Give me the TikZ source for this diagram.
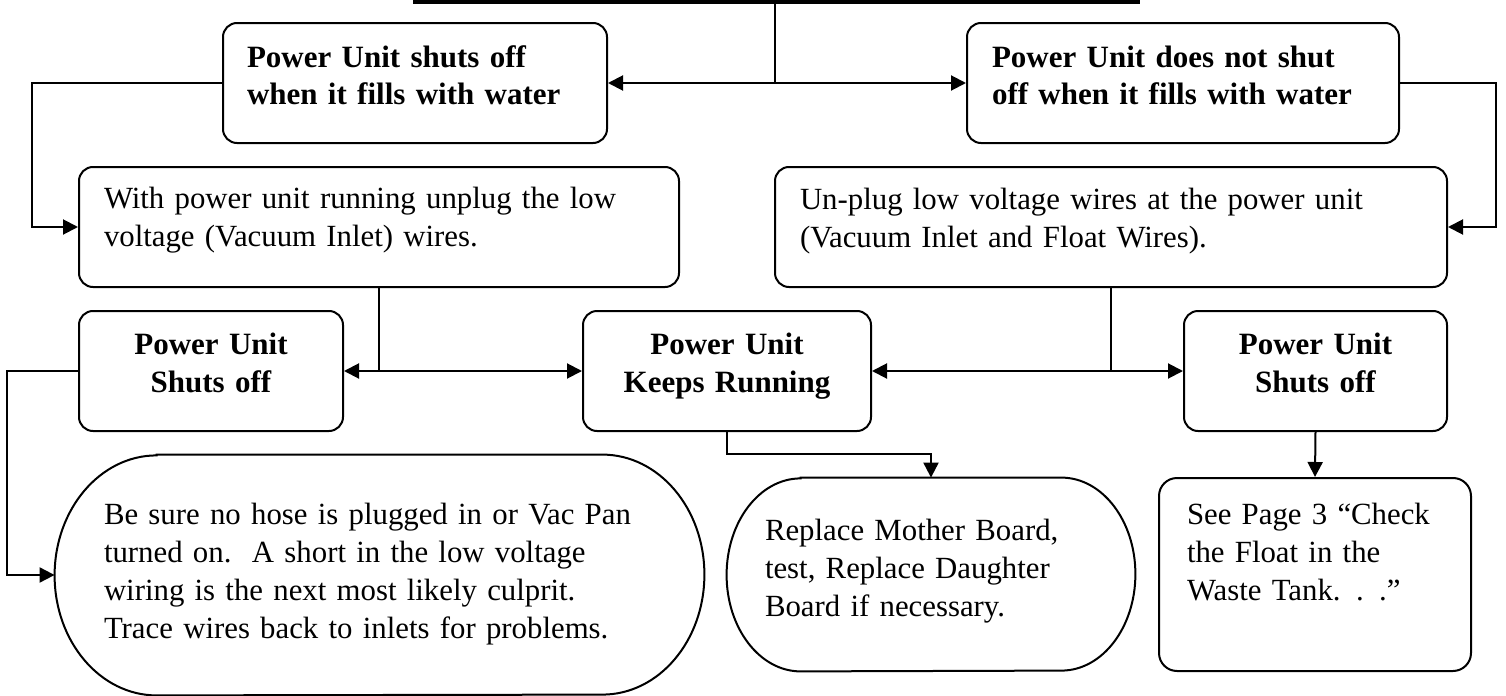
\documentclass[tikz,border=0pt]{standalone}
\usepackage{fontspec}
\setmainfont{Liberation Serif}
\usetikzlibrary{arrows.meta,calc}
\begin{document}
\begin{tikzpicture}[x=0.5pt,y=0.5pt,
  txt/.style={inner ysep=0pt, font=\fontsize{15.4}{19}\selectfont},
  boldtxt/.style={inner ysep=0pt, font=\fontsize{15.5}{19}\selectfont\bfseries},
  rbox/.style={draw, line width=1pt, rounded corners=7pt},
  link/.style={line width=1pt},
  arr/.style={line width=1pt, -{Triangle[length=7.5pt,width=7.5pt]}},
  outline/.style={line width=1pt}
]
\useasboundingbox (0,0) rectangle (1506,-696);

% top level boxes
\node[rbox, boldtxt, align=left, text width=168pt, inner xsep=12pt, text height=22pt, text depth=38pt] (b1) at (415,-83)
  {Power Unit shuts off\\when it fills with water};
\node[rbox, boldtxt, align=left, text width=191pt, inner xsep=12.5pt, text height=22pt, text depth=38pt] (b2) at (1183,-83)
  {Power Unit does not shut\\off when it fills with water};

% second level
\node[rbox, txt, align=left, text width=275pt, inner xsep=12.5pt, text height=20.5pt, text depth=39.5pt] (b3) at (379,-227)
  {With power unit running unplug the low\\voltage (Vacuum Inlet) wires.};
\node[rbox, txt, align=left, text width=311pt, inner xsep=12.5pt, text height=21pt, text depth=39pt] (b4) at (1111,-227)
  {Un-plug low voltage wires at the power unit\\(Vacuum Inlet and Float Wires).};

% third level
\node[rbox, boldtxt, align=center, text width=122pt, inner xsep=5pt, text height=21.5pt, text depth=38.5pt] (b5) at (211,-371)
  {Power Unit\\Shuts off};
\node[rbox, boldtxt, align=center, text width=134pt, inner xsep=5pt, text height=21.5pt, text depth=38.5pt] (b6) at (727,-371)
  {Power Unit\\Keeps Running};
\node[rbox, boldtxt, align=center, text width=121.5pt, inner xsep=5pt, text height=21.5pt, text depth=38.5pt] (b7) at (1315.5,-371)
  {Power Unit\\Shuts off};

% bottom level
\node[txt, align=left, text width=275.5pt, inner xsep=24.5pt, text height=34.5pt, text depth=85.5pt] (b8) at (379.5,-575)
  {Be sure no hose is plugged in or Vac Pan\\turned on.\ \ A short in the low voltage\\wiring is the next most likely culprit.\\Trace wires back to inlets for problems.};
\draw[outline] ($(b8.north west)+(51pt,0)$) -- ($(b8.north east)+(-51pt,0)$)
  arc[start angle=90, end angle=-90, x radius=51pt, y radius=60pt]
  -- ($(b8.south west)+(51pt,0)$)
  arc[start angle=270, end angle=90, x radius=51pt, y radius=60pt] -- cycle;

\node[txt, align=left, text width=166pt, inner xsep=19pt, text height=31pt, text depth=65.5pt] (b10) at (931,-574.5)
  {Replace Mother Board,\\test, Replace Daughter\\Board if necessary.};
\draw[outline] ($(b10.north west)+(37pt,0)$) -- ($(b10.north east)+(-37pt,0)$)
  arc[start angle=90, end angle=-90, x radius=37pt, y radius=48.25pt]
  -- ($(b10.south west)+(37pt,0)$)
  arc[start angle=270, end angle=90, x radius=37pt, y radius=48.25pt] -- cycle;

\node[rbox, rounded corners=9pt, txt, align=left, text width=128pt, inner xsep=14pt, text height=23pt, text depth=73.5pt] (b9) at (1315,-574.5)
  {See Page 3 “Check\\the Float in the\\Waste Tank. . .”};

% top bar (bottom edge of cropped box)
\coordinate (tl) at (413,-1.75);
\coordinate (tr) at (1140,-1.75);
\draw[line width=1.75pt] (tl) -- (tr);
\coordinate (jt) at (775,-3);
\coordinate (j1) at (775,-83);
\draw[link] (jt) -- (j1);
\draw[arr] (j1) -- (b1.east);
\draw[arr] (j1) -- (b2.west);

% side connectors
\coordinate (l1) at (31.5,-83);
\draw[arr] (b1.west) -- (l1) |- (b3.west);
\coordinate (r1) at (1496,-83);
\draw[arr] (b2.east) -- (r1) |- (b4.east);

% splits
\coordinate (j2) at (379,-371);
\draw[link] (b3.south) -- (j2);
\draw[arr] (j2) -- (b5.east);
\draw[arr] (j2) -- (b6.west);
\coordinate (j3) at (1111,-371);
\draw[link] (b4.south) -- (j3);
\draw[arr] (j3) -- (b6.east);
\draw[arr] (j3) -- (b7.west);

% to bottom row
\coordinate (l2) at (7,-371);
\draw[arr] (b5.west) -- (l2) |- (b8.west);
\coordinate (k1) at (727,-454);
\draw[arr] (b6.south) -- (k1) -| (b10.north);
\draw[arr] (b7.south) -- (b9.north);
\end{tikzpicture}
\end{document}
